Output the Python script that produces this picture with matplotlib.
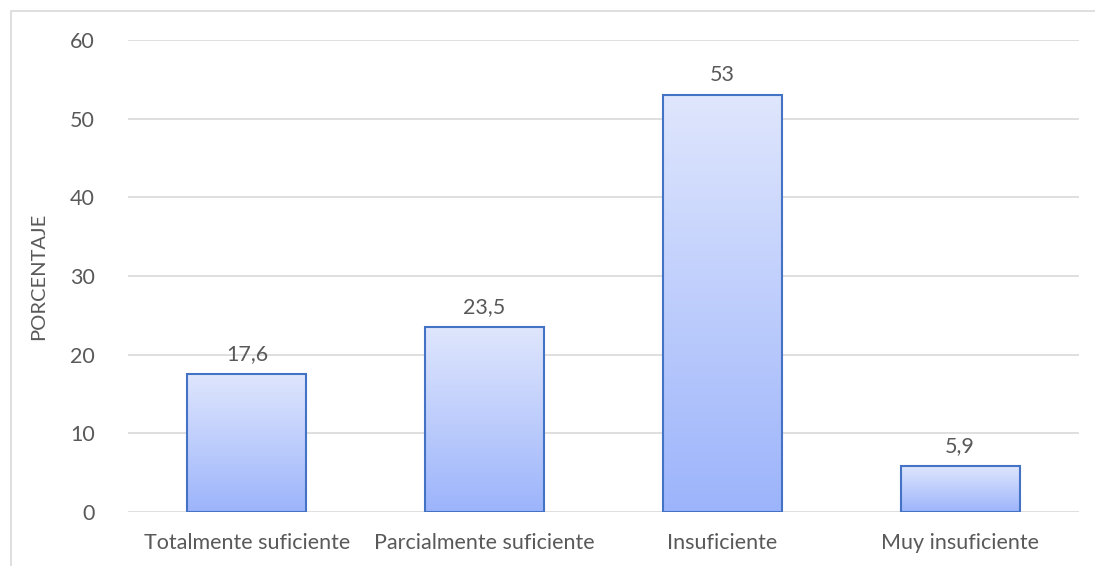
import matplotlib.pyplot as plt
import numpy as np
from matplotlib.colors import LinearSegmentedColormap
from matplotlib.patches import Rectangle

categories = ["Totalmente suficiente", "Parcialmente suficiente", "Insuficiente", "Muy insuficiente"]
values = [17.6, 23.5, 53, 5.9]
value_labels = ["17,6", "23,5", "53", "5,9"]
yticks = [0, 10, 20, 30, 40, 50, 60]

plt.rcParams['font.family'] = ['Lato', 'DejaVu Sans']
text_color = "#595959"

fig = plt.figure(figsize=(10.95, 5.66), dpi=100)
ax = fig.add_axes([128/1095, 54/566, 951/1095, 472/566])

# outer chart frame (left + top edges)
fig.add_artist(Rectangle((11/1095, -0.01), 1.2, (566-11)/566 + 0.01, transform=fig.transFigure,
                         fill=False, edgecolor="#d9d9d9", linewidth=1.2))

cmap = LinearSegmentedColormap.from_list("bar", ["#9cb4fb", "#dfe6fd"])
grad = np.linspace(0, 1, 256).reshape(-1, 1)

x = np.arange(len(categories))
bars = ax.bar(x, values, width=0.5, color="none", edgecolor="#4472c4", linewidth=1.5, zorder=3)
for bar in bars:
    bx, by = bar.get_x(), bar.get_y()
    w, h = bar.get_width(), bar.get_height()
    im = ax.imshow(grad, cmap=cmap, aspect="auto", origin="lower",
                   extent=[bx, bx + w, by, by + h], zorder=2)
    im.set_clip_path(bar)

for xi, v, lab in zip(x, values, value_labels):
    ax.annotate(lab, (xi, v), xytext=(0, 7), textcoords="offset points",
                ha="center", va="bottom", fontsize=15.5, color=text_color)

ax.set_xlim(-0.5, len(categories) - 0.5)
ax.set_ylim(0, 60)
ax.set_yticks(yticks)
ax.set_xticks(x)
ax.set_xticklabels(categories)
ax.tick_params(axis="both", length=0, labelsize=15.5, colors=text_color)
ax.tick_params(axis="y", pad=24)
ax.tick_params(axis="x", pad=15)
ax.set_ylabel("PORCENTAJE", fontsize=14.5, color=text_color, labelpad=16)
ax.grid(axis="y", color="#d9d9d9", linewidth=1.2, zorder=0)
ax.set_axisbelow(True)
for s in ax.spines.values():
    s.set_visible(False)

plt.savefig("out.png")
